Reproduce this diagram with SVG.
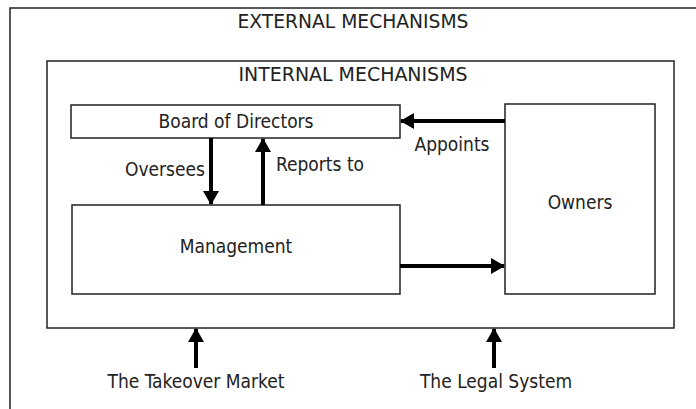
<svg xmlns="http://www.w3.org/2000/svg" width="696" height="409" viewBox="0 0 696 409">
<defs>
<style>
.box{fill:#fff;stroke:#222;stroke-width:1.5}
.frame{fill:none;stroke:#222;stroke-width:1.5}
.t{font-family:"DejaVu Sans Condensed","Liberation Sans Narrow","Liberation Sans",sans-serif;font-size:19px;fill:#222;text-anchor:middle}
.c{stroke:#000;stroke-width:4;fill:none}
</style>
<marker id="ah" viewBox="0 0 14 16" refX="13" refY="8" markerWidth="14" markerHeight="16" markerUnits="userSpaceOnUse" orient="auto">
<path d="M0,0 L14,8 L0,16 Z" fill="#000"/>
</marker>
</defs>
<rect width="696" height="409" fill="#fff"/>
<g id="external">
<path class="frame" d="M10,409 L10,8 L696,8"/>
<text class="t" x="353" y="28" textLength="231" lengthAdjust="spacingAndGlyphs">EXTERNAL MECHANISMS</text>
</g>
<g id="internal">
<rect class="box" x="47" y="61" width="627" height="267"/>
<text class="t" x="353" y="81" textLength="229" lengthAdjust="spacingAndGlyphs">INTERNAL MECHANISMS</text>
</g>
<g id="board">
<rect class="box" x="71" y="105" width="329" height="33"/>
<text class="t" x="236" y="128">Board of Directors</text>
</g>
<g id="management">
<rect class="box" x="72" y="205" width="328" height="89"/>
<text class="t" x="236" y="253">Management</text>
</g>
<g id="owners">
<rect class="box" x="505" y="104" width="150" height="190"/>
<text class="t" x="580" y="209">Owners</text>
</g>
<g id="connectors">
<line class="c" x1="505" y1="121" x2="401" y2="121" marker-end="url(#ah)"/>
<line class="c" x1="211" y1="138" x2="211" y2="204" marker-end="url(#ah)"/>
<line class="c" x1="263" y1="205" x2="263" y2="139" marker-end="url(#ah)"/>
<line class="c" x1="400" y1="266" x2="504" y2="266" marker-end="url(#ah)"/>
<line class="c" x1="196" y1="368" x2="196" y2="329" marker-end="url(#ah)"/>
<line class="c" x1="494" y1="368" x2="494" y2="329" marker-end="url(#ah)"/>
<text class="t" x="452" y="151">Appoints</text>
<text class="t" x="165" y="176">Oversees</text>
<text class="t" x="320" y="171">Reports to</text>
</g>
<g id="takeover">
<text class="t" x="196" y="388">The Takeover Market</text>
</g>
<g id="legal">
<text class="t" x="496" y="388">The Legal System</text>
</g>
</svg>
